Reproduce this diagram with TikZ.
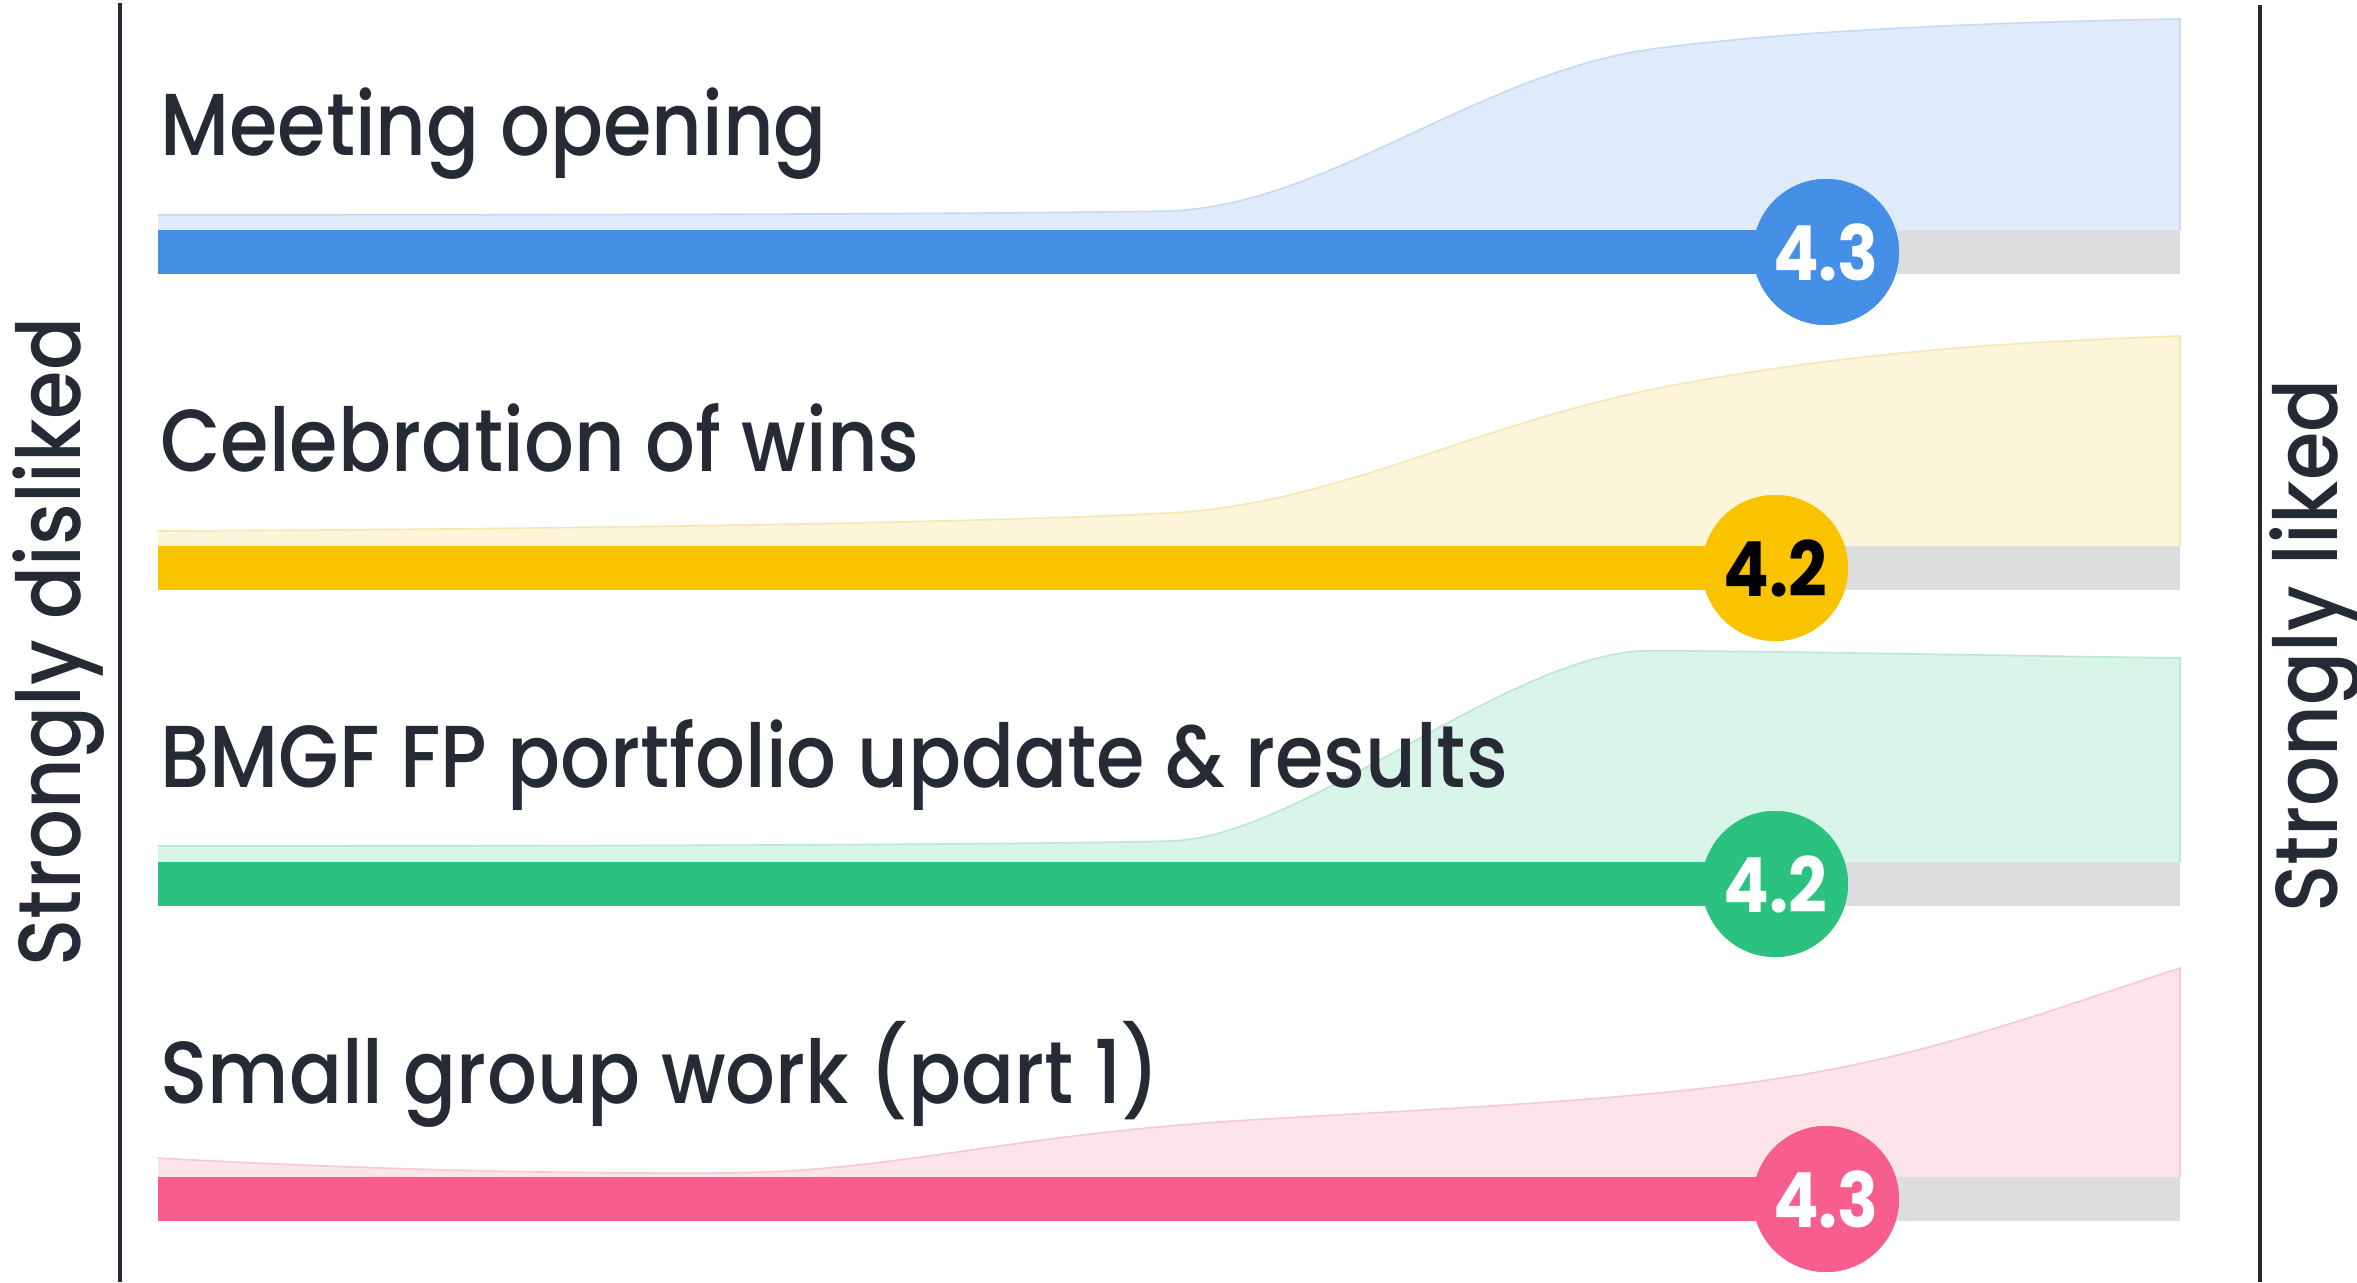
\documentclass[tikz,border=0pt]{standalone}
\usepackage{fontspec}
\setmainfont{Poppins}[UprightFont={* Medium},BoldFont={* Bold},FakeStretch=0.89]
\definecolor{ink}{HTML}{262A35}
\definecolor{cblue}{HTML}{458FE6}
\definecolor{cyellow}{HTML}{FAC300}
\definecolor{cgreen}{HTML}{2BC280}
\definecolor{cpink}{HTML}{F75E8D}
\definecolor{cgray}{HTML}{DCDDDF}
\definecolor{ablue}{HTML}{DFEBFA}
\definecolor{lblue}{HTML}{C6DAF4}
\definecolor{ayellow}{HTML}{FDF5DA}
\definecolor{lyellow}{HTML}{F6E6B4}
\definecolor{agreen}{HTML}{D9F4E8}
\definecolor{lgreen}{HTML}{BBE8D3}
\definecolor{apink}{HTML}{FDE4EB}
\definecolor{lpink}{HTML}{F7C8D6}
\begin{document}
\begin{tikzpicture}[x=0.5pt,y=-0.5pt,
  axisline/.style={draw=ink,line width=1.6pt},
  sidelabel/.style={text=ink,font=\fontsize{44}{50}\selectfont,rotate=90,anchor=base,inner sep=0pt},
  rowlabel/.style={text=ink,font=\fontsize{44}{50}\selectfont,anchor=base west,inner sep=0pt},
  trackbar/.style={draw=cgray,line width=22pt},
  valbar/.style={line width=22pt},
  dot/.style={circle,minimum size=73pt,inner sep=0pt,font=\fontsize{38}{40}\selectfont\bfseries},
  areaedge/.style={line width=0.8pt}
]
\useasboundingbox (0,0) rectangle (2357,1282);
\fill[white] (0,0) rectangle (2357,1282);

% axes
\coordinate (lt) at (120,3);
\coordinate (lb) at (120,1282);
\coordinate (rt) at (2260,5);
\coordinate (rb) at (2260,1282);
\draw[axisline] (lt) -- (lb);
\draw[axisline] (rt) -- (rb);
\node[sidelabel] (dis) at (80,642) {Strongly disliked};
\node[sidelabel] (lik) at (2337,646) {Strongly liked};

% ---------- row 1 ----------
\def\curveA{(158,215) .. controls (600,215) and (1000,214) .. (1170,211)
  .. controls (1330,205) and (1480,70) .. (1660,48)
  .. controls (1800,30) and (2000,22) .. (2180,19)}
\fill[ablue] (158,230) -- \curveA -- (2180,230) -- cycle;
\draw[lblue,areaedge] \curveA -- (2180,230);
\node[rowlabel] (t1) at (160,155) {Meeting opening};
\coordinate (s1) at (158,252);
\coordinate (e1) at (2180,252);
\draw[trackbar] (s1) -- (e1);
\node[dot,fill=cblue,text=white] (c1) at (1826,252) {4.3};
\draw[valbar,draw=cblue] (s1) -- (c1.center);
\node[dot,fill=cblue,text=white] at (c1.center) {4.3};

% ---------- row 2 ----------
\def\curveB{(158,531) .. controls (600,529) and (1000,522) .. (1170,513)
  .. controls (1340,504) and (1480,420) .. (1680,384)
  .. controls (1880,348) and (2030,342) .. (2180,336)}
\fill[ayellow] (158,546) -- \curveB -- (2180,546) -- cycle;
\draw[lyellow,areaedge] \curveB -- (2180,546);
\node[rowlabel] (t2) at (160,471) {Celebration of wins};
\coordinate (s2) at (158,568);
\coordinate (e2) at (2180,568);
\draw[trackbar] (s2) -- (e2);
\node[dot,fill=cyellow,text=black] (c2) at (1775,568) {4.2};
\draw[valbar,draw=cyellow] (s2) -- (c2.center);
\node[dot,fill=cyellow,text=black] at (c2.center) {4.2};

% ---------- row 3 ----------
\def\curveC{(158,846) .. controls (600,846) and (1000,845) .. (1170,841)
  .. controls (1300,838) and (1500,660) .. (1640,651)
  .. controls (1700,650) and (1900,654) .. (2180,658)}
\fill[agreen] (158,862) -- \curveC -- (2180,862) -- cycle;
\draw[lgreen,areaedge] \curveC -- (2180,862);
\node[rowlabel] (t3) at (160,787) {BMGF FP portfolio update \& results};
\coordinate (s3) at (158,884);
\coordinate (e3) at (2180,884);
\draw[trackbar] (s3) -- (e3);
\node[dot,fill=cgreen,text=white] (c3) at (1775,884) {4.2};
\draw[valbar,draw=cgreen] (s3) -- (c3.center);
\node[dot,fill=cgreen,text=white] at (c3.center) {4.2};

% ---------- row 4 ----------
\def\curveD{(158,1158) .. controls (300,1166) and (500,1174) .. (720,1173)
  .. controls (900,1172) and (1000,1135) .. (1250,1120)
  .. controls (1450,1108) and (1650,1100) .. (1800,1075)
  .. controls (1950,1050) and (2080,1000) .. (2180,968)}
\fill[apink] (158,1177) -- \curveD -- (2180,1177) -- cycle;
\draw[lpink,areaedge] \curveD -- (2180,1177);
\node[rowlabel] (t4) at (160,1103) {Small group work (part 1)};
\coordinate (s4) at (158,1199);
\coordinate (e4) at (2180,1199);
\draw[trackbar] (s4) -- (e4);
\node[dot,fill=cpink,text=white] (c4) at (1826,1199) {4.3};
\draw[valbar,draw=cpink] (s4) -- (c4.center);
\node[dot,fill=cpink,text=white] at (c4.center) {4.3};
\end{tikzpicture}
\end{document}
